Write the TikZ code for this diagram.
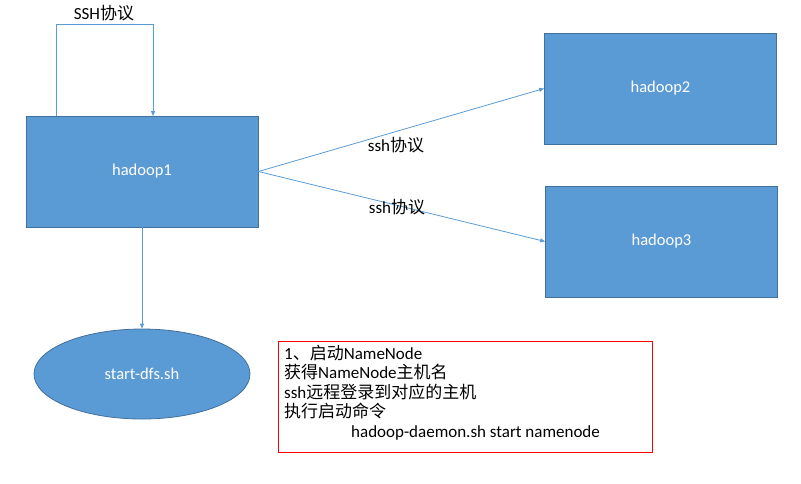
\documentclass[tikz,border=0pt]{standalone}
\usepackage{fontspec}
\setmainfont{Carlito}
\newfontfamily\cjk{Noto Sans CJK SC}
\usetikzlibrary{shapes.geometric,arrows.meta}
\definecolor{boxfill}{HTML}{5B9BD5}
\definecolor{boxline}{HTML}{41719C}
\tikzset{
  hostbox/.style={draw=boxline,fill=boxfill,line width=0.8pt,minimum width=232pt,minimum height=111pt,text=white,font=\fontsize{16.5}{19}\selectfont,inner sep=0pt},
  conn/.style={draw=boxfill,line width=0.8pt,-{Triangle[length=5pt,width=4pt]}},
  lbl/.style={font=\fontsize{17}{20}\selectfont,text=black,inner sep=0pt}
}
\begin{document}
\begin{tikzpicture}[x=1pt,y=-1pt]
\useasboundingbox (0,0) rectangle (801,483);
\node[hostbox] (h1) at (142,171.5) {hadoop1};
\node[hostbox] (h2) at (660.5,88.5) {hadoop2};
\node[hostbox] (h3) at (661.5,241.5) {hadoop3};
\node[draw=boxline,fill=boxfill,line width=0.8pt,ellipse,minimum width=216pt,minimum height=90pt,inner sep=0pt,text=white,font=\fontsize{16.5}{19}\selectfont] (sd) at (142,374) {start-dfs.sh};
\coordinate (a1) at (56,24);
\coordinate (a2) at (153,24);
\coordinate (s1) at (56,116);
\coordinate (e1) at (153,116);
\draw[conn] (s1) -- (a1) -- (a2) -- (e1);
\node[lbl] (l0) at (104,13) {SSH{\cjk 协议}};
\draw[conn] (h1.east) -- (h2.west);
\draw[conn] (h1.east) -- (h3.west);
\node[lbl] (l1) at (396,145) {ssh{\cjk 协议}};
\node[lbl] (l2) at (397,207) {ssh{\cjk 协议}};
\draw[conn] (h1.south) -- (sd.north);
\node[draw=red,line width=0.8pt,minimum width=374pt,minimum height=111pt,inner sep=0pt] (rb) at (465,396.5) {};
\node[lbl,anchor=west] (t1) at (284,353) {1{\cjk 、启动}NameNode};
\node[lbl,anchor=west] (t2) at (284,372) {{\cjk 获得}NameNode{\cjk 主机名}};
\node[lbl,anchor=west] (t3) at (284,392) {ssh{\cjk 远程登录到对应的主机}};
\node[lbl,anchor=west] (t4) at (284,411) {{\cjk 执行启动命令}};
\node[lbl,anchor=west] (t5) at (351,433) {hadoop-daemon.sh start namenode};
\end{tikzpicture}
\end{document}
